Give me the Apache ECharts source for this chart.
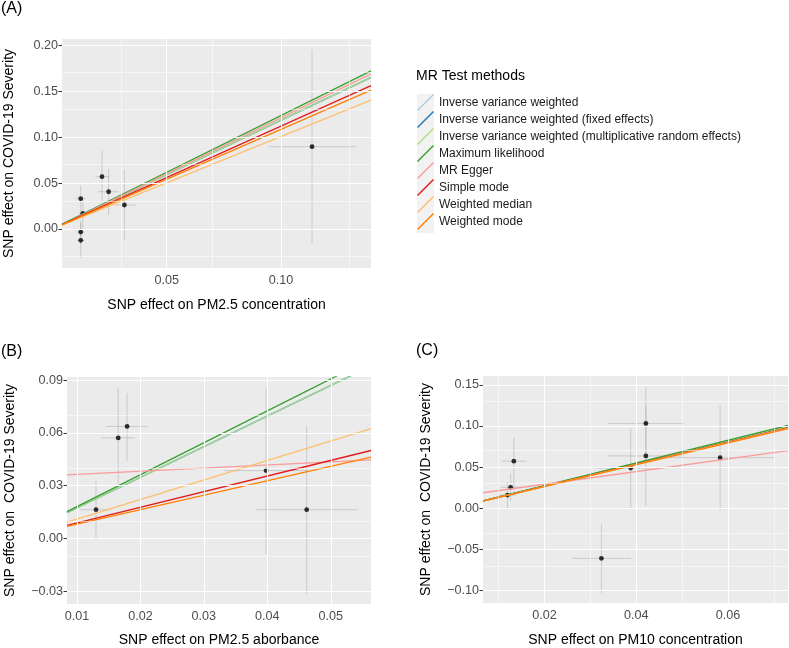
<!DOCTYPE html>
<html><head><meta charset="utf-8">
<script src="https://cdn.jsdelivr.net/npm/echarts@6/dist/echarts.min.js"></script>
<style>html,body{margin:0;padding:0;background:#fff}#c{width:789px;height:648px}</style>
</head><body><div id="c"></div>
<script>
// ---------- data ----------
const methods = [
  'Inverse variance weighted',
  'Inverse variance weighted (fixed effects)',
  'Inverse variance weighted (multiplicative random effects)',
  'Maximum likelihood',
  'MR Egger',
  'Simple mode',
  'Weighted median',
  'Weighted mode'
];
const methodColors = ['#A6CEE3','#1F78B4','#B2DF8A','#33A02C','#FB9A99','#E31A1C','#FDBF6F','#FF7F00'];

// Panel A: PM2.5 concentration  [x, y, xlo, xhi, ylo, yhi]
const pointsA = [
  [0.0124, 0.0330, 0.0103, 0.0144, 0.0185, 0.0475],
  [0.0133, 0.0171, 0.0115, 0.0151, 0.0006, 0.0336],
  [0.0124, -0.0033, 0.0107, 0.0141, -0.0163, 0.0097],
  [0.0124, -0.0123, 0.0106, 0.0142, -0.0318, 0.0072],
  [0.0217, 0.0569, 0.0188, 0.0249, 0.0288, 0.0850],
  [0.0246, 0.0405, 0.0199, 0.0290, 0.0157, 0.0653],
  [0.0315, 0.0261, 0.0275, 0.0365, -0.0120, 0.0641],
  [0.1136, 0.0895, 0.0946, 0.1331, -0.0163, 0.1953]
];
const slopesA     = [1.183, 1.183, 1.183, 1.234, 1.213, 1.118, 1.005, 1.083];
const interceptsA = [0, 0, 0, 0, -0.0005, 0, 0, 0];
const xRangeA = [0.0042, 0.1394];
const yRangeA = [-0.0424, 0.2066];
const xMajorA = [0.05, 0.10];
const xMinorA = [0.025, 0.075, 0.125];
const yMajorA = [0.00, 0.05, 0.10, 0.15, 0.20];
const yMinorA = [-0.025, 0.025, 0.075, 0.125, 0.175];

// Panel B: PM2.5 absorbance
const pointsB = [
  [0.0130, 0.0164, 0.0105, 0.0154, 0.0004, 0.0324],
  [0.0165, 0.0572, 0.0138, 0.0191, 0.0311, 0.0857],
  [0.0179, 0.0637, 0.0146, 0.0212, 0.0442, 0.0827],
  [0.0398, 0.0386, 0.0332, 0.0464, -0.0089, 0.0857],
  [0.0462, 0.0164, 0.0383, 0.0542, -0.0313, 0.0641]
];
const slopesB     = [1.74, 1.74, 1.74, 1.814, 0.177, 0.888, 1.108, 0.821];
const interceptsB = [0, 0, 0, 0, 0.0347, 0, 0, 0];
const xRangeB = [0.00843, 0.05634];
const yRangeB = [-0.0372, 0.0918];
const xMajorB = [0.01, 0.02, 0.03, 0.04, 0.05];
const xMinorB = [0.015, 0.025, 0.035, 0.045, 0.055];
const yMajorB = [-0.03, 0.00, 0.03, 0.06, 0.09];
const yMinorB = [-0.015, 0.015, 0.045, 0.075];

// Panel C: PM10 concentration
const pointsC = [
  [0.0119, 0.0160, 0.0100, 0.0138, 0.0000, 0.0320],
  [0.0126, 0.0255, 0.0104, 0.0149, 0.0090, 0.0425],
  [0.0133, 0.0572, 0.0107, 0.0160, 0.0207, 0.0860],
  [0.0324, -0.0608, 0.0260, 0.0389, -0.1031, -0.0188],
  [0.0388, 0.0488, 0.0314, 0.0445, 0.0000, 0.0971],
  [0.0421, 0.1031, 0.0338, 0.0504, 0.0580, 0.1480],
  [0.0421, 0.0636, 0.0338, 0.0504, 0.0028, 0.1244],
  [0.0583, 0.0615, 0.0439, 0.0700, -0.0028, 0.1259]
];
const slopesC     = [1.36, 1.36, 1.36, 1.378, 0.768, 1.34, 1.33, 1.324];
const interceptsC = [0, 0, 0, 0, 0.0138, 0, 0, 0];
const xRangeC = [0.00657, 0.0731];
const yRangeC = [-0.1151, 0.1607];
const xMajorC = [0.02, 0.04, 0.06];
const xMinorC = [0.01, 0.03, 0.05, 0.07];
const yMajorC = [-0.10, -0.05, 0.00, 0.05, 0.10, 0.15];
const yMinorC = [-0.075, -0.025, 0.025, 0.075, 0.125];

const xTitles = ['SNP effect on PM2.5 concentration', 'SNP effect on PM2.5 aborbance', 'SNP effect on PM10 concentration'];
const yTitles = ['SNP effect on COVID-19 Severity', 'SNP effect on  COVID-19 Severity', 'SNP effect on  COVID-19 Severity'];
const panelLabels = ['(A)', '(B)', '(C)'];
const legendTitle = 'MR Test methods';

// ---------- build ----------
const F = '"Liberation Sans", Arial, Helvetica, sans-serif';
const fmt = v => Number(v).toFixed(2).replace('-', '\u2212');

const panels = [
  {pts: pointsA, m: slopesA, b: interceptsA, xr: xRangeA, yr: yRangeA, xM: xMajorA, xm: xMinorA, yM: yMajorA, ym: yMinorA,
   grid: {left: 62, top: 39, width: 309, height: 229}, xGap: 30, yGap: 46},
  {pts: pointsB, m: slopesB, b: interceptsB, xr: xRangeB, yr: yRangeB, xM: xMajorB, xm: xMinorB, yM: yMajorB, ym: yMinorB,
   grid: {left: 67, top: 377, width: 304, height: 231}, xGap: 29, yGap: 50},
  {pts: pointsC, m: slopesC, b: interceptsC, xr: xRangeC, yr: yRangeC, xM: xMajorC, xm: xMinorC, yM: yMajorC, ym: yMinorC,
   grid: {left: 483, top: 376, width: 305, height: 230}, xGap: 30, yGap: 50}
];

const grids = [], xAxes = [], yAxes = [], series = [];

function axisCommon(range, majors, margin) {
  return {
    type: 'value', min: range[0], max: range[1],
    axisLine: {show: false}, splitLine: {show: false},
    axisTick: {show: true, length: 3.5, lineStyle: {color: '#333333', width: 1}, customValues: majors},
    axisLabel: {customValues: majors, formatter: fmt, color: '#4D4D4D', fontSize: 12.6, fontFamily: F, margin: margin}
  };
}

function renderErr(params, api) {
  const x = api.value(0), y = api.value(1);
  const a = api.coord([api.value(2), y]), b = api.coord([api.value(3), y]);
  const c = api.coord([x, api.value(4)]), d = api.coord([x, api.value(5)]);
  const style = {stroke: 'rgba(120,120,120,0.28)', lineWidth: 1};
  return {type: 'group', children: [
    {type: 'line', shape: {x1: a[0], y1: a[1], x2: b[0], y2: b[1]}, style},
    {type: 'line', shape: {x1: c[0], y1: c[1], x2: d[0], y2: d[1]}, style}
  ]};
}

panels.forEach((p, i) => {
  grids.push(Object.assign({show: true, backgroundColor: '#EBEBEB', borderWidth: 0, containLabel: false}, p.grid));
  xAxes.push(Object.assign(axisCommon(p.xr, p.xM, 6), {
    gridIndex: i, name: xTitles[i], nameLocation: 'middle', nameGap: p.xGap,
    nameTextStyle: {color: '#000', fontSize: 14, fontFamily: F}
  }));
  yAxes.push(Object.assign(axisCommon(p.yr, p.yM, 4), {
    gridIndex: i, name: yTitles[i], nameLocation: 'middle', nameGap: p.yGap,
    nameTextStyle: {color: '#000', fontSize: 14, fontFamily: F}
  }));

  // grid lines (major + minor) drawn in data coordinates
  const gl = [];
  p.xm.forEach(v => gl.push({xAxis: v, lineStyle: {color: '#FFFFFF', width: 0.55, type: 'solid', opacity: 1}}));
  p.ym.forEach(v => gl.push({yAxis: v, lineStyle: {color: '#FFFFFF', width: 0.55, type: 'solid', opacity: 1}}));
  p.xM.forEach(v => gl.push({xAxis: v, lineStyle: {color: '#FFFFFF', width: 1.1, type: 'solid', opacity: 1}}));
  p.yM.forEach(v => gl.push({yAxis: v, lineStyle: {color: '#FFFFFF', width: 1.1, type: 'solid', opacity: 1}}));
  series.push({
    type: 'line', xAxisIndex: i, yAxisIndex: i, data: [], z: 1, silent: true, animation: false,
    markLine: {symbol: ['none', 'none'], silent: true, animation: false, label: {show: false},
      emphasis: {disabled: true}, data: gl}
  });

  series.push({
    type: 'custom', xAxisIndex: i, yAxisIndex: i, z: 2, silent: true, animation: false,
    renderItem: renderErr, encode: {x: [0, 2, 3], y: [1, 4, 5]}, data: p.pts
  });
  series.push({
    type: 'scatter', xAxisIndex: i, yAxisIndex: i, z: 3, silent: true, animation: false,
    symbolSize: 4.8, itemStyle: {color: '#000'}, data: p.pts.map(d => [d[0], d[1]])
  });
  methods.forEach((name, k) => {
    const x0 = p.xr[0], x1 = p.xr[1];
    series.push({
      type: 'line', name, xAxisIndex: i, yAxisIndex: i, z: 4, silent: true, animation: false,
      showSymbol: false, symbol: 'none', clip: true,
      itemStyle: {color: methodColors[k]},
      lineStyle: {color: methodColors[k], width: 1.3},
      data: [[x0, p.b[k] + p.m[k] * x0], [x1, p.b[k] + p.m[k] * x1]]
    });
  });
});

const option = {
  backgroundColor: '#FFFFFF',
  animation: false,
  textStyle: {fontFamily: F},
  title: [
    {text: panelLabels[0], left: 1, top: 1, padding: 0, textStyle: {fontSize: 16, fontWeight: 'normal', color: '#000', fontFamily: F}},
    {text: panelLabels[1], left: 1, top: 344, padding: 0, textStyle: {fontSize: 16, fontWeight: 'normal', color: '#000', fontFamily: F}},
    {text: panelLabels[2], left: 416, top: 343, padding: 0, textStyle: {fontSize: 16, fontWeight: 'normal', color: '#000', fontFamily: F}},
    {text: legendTitle, left: 416, top: 69, padding: 0, textStyle: {fontSize: 14, fontWeight: 'normal', color: '#000', fontFamily: F}}
  ],
  legend: {
    data: methods, orient: 'vertical', left: 417, top: 94, padding: 0,
    itemWidth: 17, itemHeight: 17.4, itemGap: 0, selectedMode: false,
    icon: 'path://M0,94 L94,0 L100,6 L6,100 Z',
    textStyle: {fontSize: 12, color: '#1A1A1A', fontFamily: F, padding: [0, 0, 0, 0]}
  },
  graphic: [
    {type: 'rect', left: 417, top: 94, z: 0, shape: {width: 17, height: 139.2}, style: {fill: '#F2F2F2'}}
  ],
  grid: grids, xAxis: xAxes, yAxis: yAxes, series
};

const chart = echarts.init(document.getElementById('c'), null, {renderer: 'canvas'});
chart.setOption(option);
</script>
</body></html>
